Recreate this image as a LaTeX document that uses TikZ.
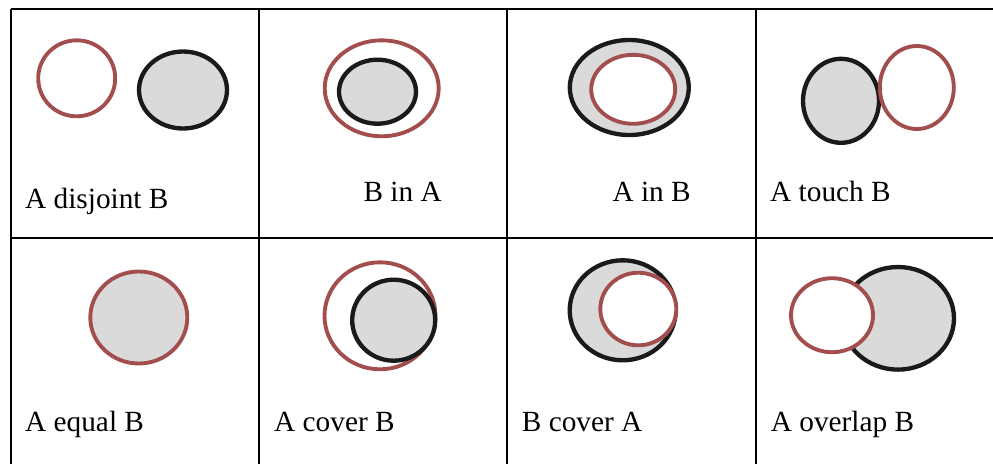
\documentclass[tikz,border=0pt]{standalone}
\usepackage{fontspec}
\setmainfont{Liberation Serif}
\usetikzlibrary{positioning}
\definecolor{setred}{RGB}{163,78,78}
\definecolor{setink}{RGB}{26,26,26}
\definecolor{setgray}{RGB}{218,218,218}
\tikzset{
  gridline/.style={draw=black, line width=1.3pt},
  setA/.style={draw=setred, line width=3.3pt, fill=white},
  setAfilled/.style={draw=setred, line width=3.3pt, fill=setgray},
  setB/.style={draw=setink, line width=3.7pt, fill=setgray},
  rellabel/.style={anchor=base west, inner sep=0pt, font=\rmfamily\fontsize{25}{30}\selectfont},
}

\begin{document}
\begin{tikzpicture}[x=0.03cm,y=-0.03cm]
  \useasboundingbox (0,0) rectangle (993,463);
  \clip (0,0) rectangle (993,463);

  % table grid
  \draw[gridline] (11,9) -- (1000,9);
  \draw[gridline] (11,238) -- (1000,238);
  \foreach \xcol in {11,259,507,756}
    \draw[gridline] (\xcol,9) -- (\xcol,470);

  % row 1
  \draw[setA] (76.7,78.3) ellipse [x radius=38.5, y radius=38];
  \draw[setB] (183,90) ellipse [x radius=44, y radius=38.5];
  \node[rellabel] (disjoint) at (25,208) {A disjoint B};

  \draw[setA] (381.7,88.3) ellipse [x radius=57, y radius=48];
  \draw[setB] (377.5,91.7) ellipse [x radius=38.5, y radius=32];
  \node[rellabel] (binA) at (363.3,201) {B in A};

  \draw[setB] (629.3,87.5) ellipse [x radius=59.5, y radius=47.5];
  \draw[setA] (633.2,89.3) ellipse [x radius=42, y radius=34.5];
  \node[rellabel] (ainB) at (612.3,201) {A in B};

  \draw[setB] (841,100.8) ellipse [x radius=38, y radius=42];
  \draw[setA] (916.8,87.5) ellipse [x radius=37, y radius=41.5];
  \node[rellabel] (touch) at (770,201) {A touch B};

  % row 2
  \draw[setAfilled] (138.8,317.5) ellipse [x radius=48.5, y radius=46];
  \node[rellabel] (equal) at (25,431) {A equal B};

  \draw[setA] (380,315.8) ellipse [x radius=55.5, y radius=53.5];
  \draw[setB] (393.7,320.2) ellipse [x radius=41.5, y radius=40.5];
  \node[rellabel] (acover) at (274,431) {A cover B};

  \draw[setB] (622.7,310.3) ellipse [x radius=53, y radius=50];
  \draw[setA] (638.3,309) ellipse [x radius=38, y radius=36.3];
  \node[rellabel] (bcover) at (521.7,431) {B cover A};

  \draw[setB] (898,318.3) ellipse [x radius=56, y radius=51.3];
  \draw[setA] (832,315.2) ellipse [x radius=41, y radius=37];
  \node[rellabel] (overlap) at (770.7,431) {A overlap B};
\end{tikzpicture}
\end{document}
